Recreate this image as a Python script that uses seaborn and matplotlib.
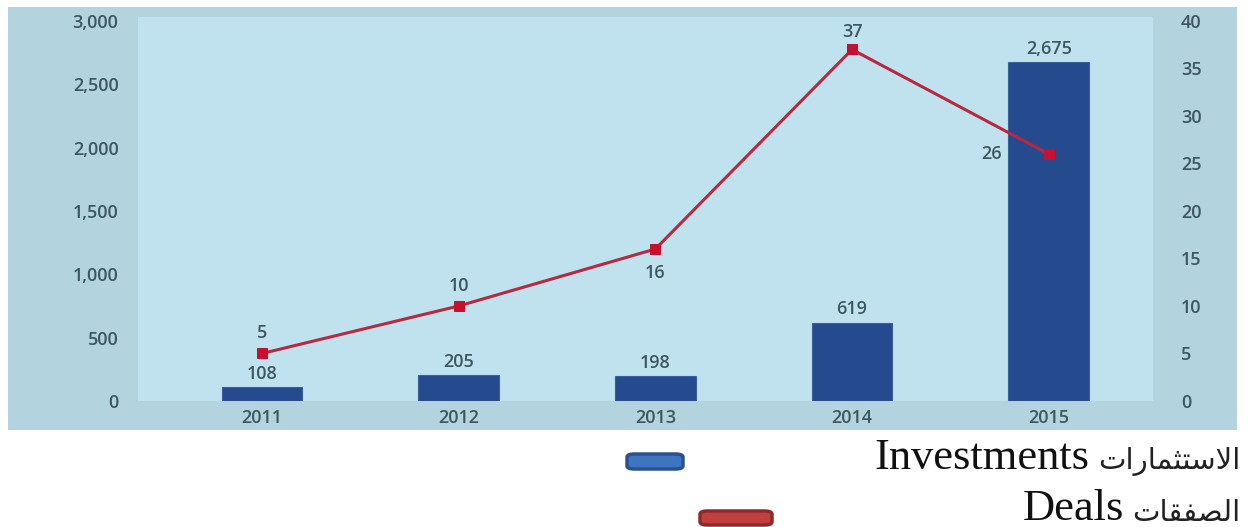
import numpy as np
import pandas as pd
import matplotlib
matplotlib.use("Agg")
import matplotlib.pyplot as plt
import seaborn as sns
from matplotlib.patches import Rectangle, FancyBboxPatch

# Data
years = ["2011", "2012", "2013", "2014", "2015"]
investments = [108, 205, 198, 619, 2675]
deals = [5, 10, 16, 37, 26]
left_ticks = [0, 500, 1000, 1500, 2000, 2500, 3000]
right_ticks = [0, 5, 10, 15, 20, 25, 30, 35, 40]

# Legend texts (Arabic in presentation forms, visual order)
ar_investments = "\uFE95\uFE8D\uFEAD\uFE8E\uFEE4\uFE9C\uFE98\uFEB3\uFEFB\uFE8D"
ar_deals = "\uFE95\uFE8E\uFED8\uFED4\uFEBC\uFEDF\uFE8D"

sns.set_theme(style="white")
plt.rcParams["font.family"] = ["Open Sans", "DejaVu Sans"]

OUTER = "#b3d4df"
INNER = "#c0e2ee"
BAR = "#264a8e"
LINE = "#b8293f"
MARK = "#c8102e"
TXT = "#3d5661"

W, H = 1248, 527
fig = plt.figure(figsize=(W / 100, H / 100), dpi=100)
fig.patch.set_facecolor("white")

# Outer panel behind the plot
fig.patches.append(Rectangle((8 / W, 1 - 430 / H), (1237 - 8) / W, (430 - 7) / H,
                             transform=fig.transFigure, facecolor=OUTER,
                             edgecolor="none", zorder=-5))

ax = fig.add_axes([138 / W, 1 - 401 / H, (1153 - 138) / W, (401 - 17) / H])
ax.set_facecolor(INNER)

df = pd.DataFrame({"year": years, "investments": investments, "deals": deals})
sns.barplot(data=df, x="year", y="investments", color=BAR, width=0.41,
            saturation=1, edgecolor="#3a5f9e", linewidth=0.8, ax=ax, zorder=2)
ax.set_xlim(-0.63, 4.53)
ax.set_ylim(0, 3000 * 384 / 380)
ax.set_yticks(left_ticks)
ax.set_yticklabels([f"{v:,}" for v in left_ticks])
ax.set_xlabel("")
ax.set_ylabel("")
for s in ax.spines.values():
    s.set_visible(False)
ax.tick_params(axis="y", length=0, pad=14, labelsize=13, labelcolor=TXT)
ax.tick_params(axis="x", length=0, pad=6, labelsize=13, labelcolor=TXT)
for lbl in ax.get_yticklabels() + ax.get_xticklabels():
    lbl.set_fontweight("semibold")

for i, v in enumerate(investments):
    ax.annotate(f"{v:,}", (i, v), xytext=(0, 3), textcoords="offset points",
                ha="center", va="bottom", fontsize=13, color=TXT,
                fontweight="semibold")

ax2 = ax.twinx()
x_pos = np.arange(len(years))
sns.lineplot(x=x_pos, y=deals, ax=ax2, color=LINE, linewidth=2.2,
             marker="s", markersize=7, markerfacecolor=MARK,
             markeredgecolor=MARK, zorder=3)
ax2.set_ylim(0, 40 * 384 / 380)
ax2.set_yticks(right_ticks)
ax2.set_ylabel("")
for s in ax2.spines.values():
    s.set_visible(False)
ax2.tick_params(axis="y", length=0, pad=20, labelsize=13, labelcolor=TXT)
for lbl in ax2.get_yticklabels():
    lbl.set_fontweight("semibold")

# Deal labels: offset per point
offsets = [(0, 8, "center", "bottom"), (0, 8, "center", "bottom"),
           (0, -11, "center", "top"), (0, 6, "center", "bottom"),
           (-34, 0, "right", "center")]
for i, v in enumerate(deals):
    dx, dy, ha, va = offsets[i]
    ax2.annotate(str(v), (i, v), xytext=(dx, dy), textcoords="offset points",
                 ha=ha, va=va, fontsize=13, color=TXT, fontweight="semibold")

# Legend below the chart
def legend_key(x0, y0, w, h, face, edge):
    fig.patches.append(FancyBboxPatch((x0 / W, 1 - (y0 + h) / H), w / W, h / H,
                                      boxstyle="round,pad=0,rounding_size=0.006",
                                      transform=fig.transFigure,
                                      facecolor=face, edgecolor=edge,
                                      linewidth=2.5, zorder=1))

legend_key(627, 454, 56, 15, "#3f74c0", "#2b528f")
legend_key(700, 511, 72, 14, "#c0403e", "#8f2a2a")

serif = ["Liberation Serif", "DejaVu Serif"]
arab = ["DejaVu Sans"]
renderer = fig.canvas.get_renderer()


def legend_entry(label, arabic, y_en, y_ar):
    t_ar = fig.text(1240 / W, 1 - y_ar / H, arabic, ha="right", va="center",
                    fontsize=21, family=arab, color="#222222")
    left_px = t_ar.get_window_extent(renderer).x0
    fig.text((left_px - 8) / W, 1 - y_en / H, label, ha="right", va="center",
             fontsize=32, family=serif, color="#111111")


legend_entry("Investments", ar_investments, 458, 461)
legend_entry("Deals", ar_deals, 509, 513)

fig.savefig("out.png", dpi=100, facecolor="white")
